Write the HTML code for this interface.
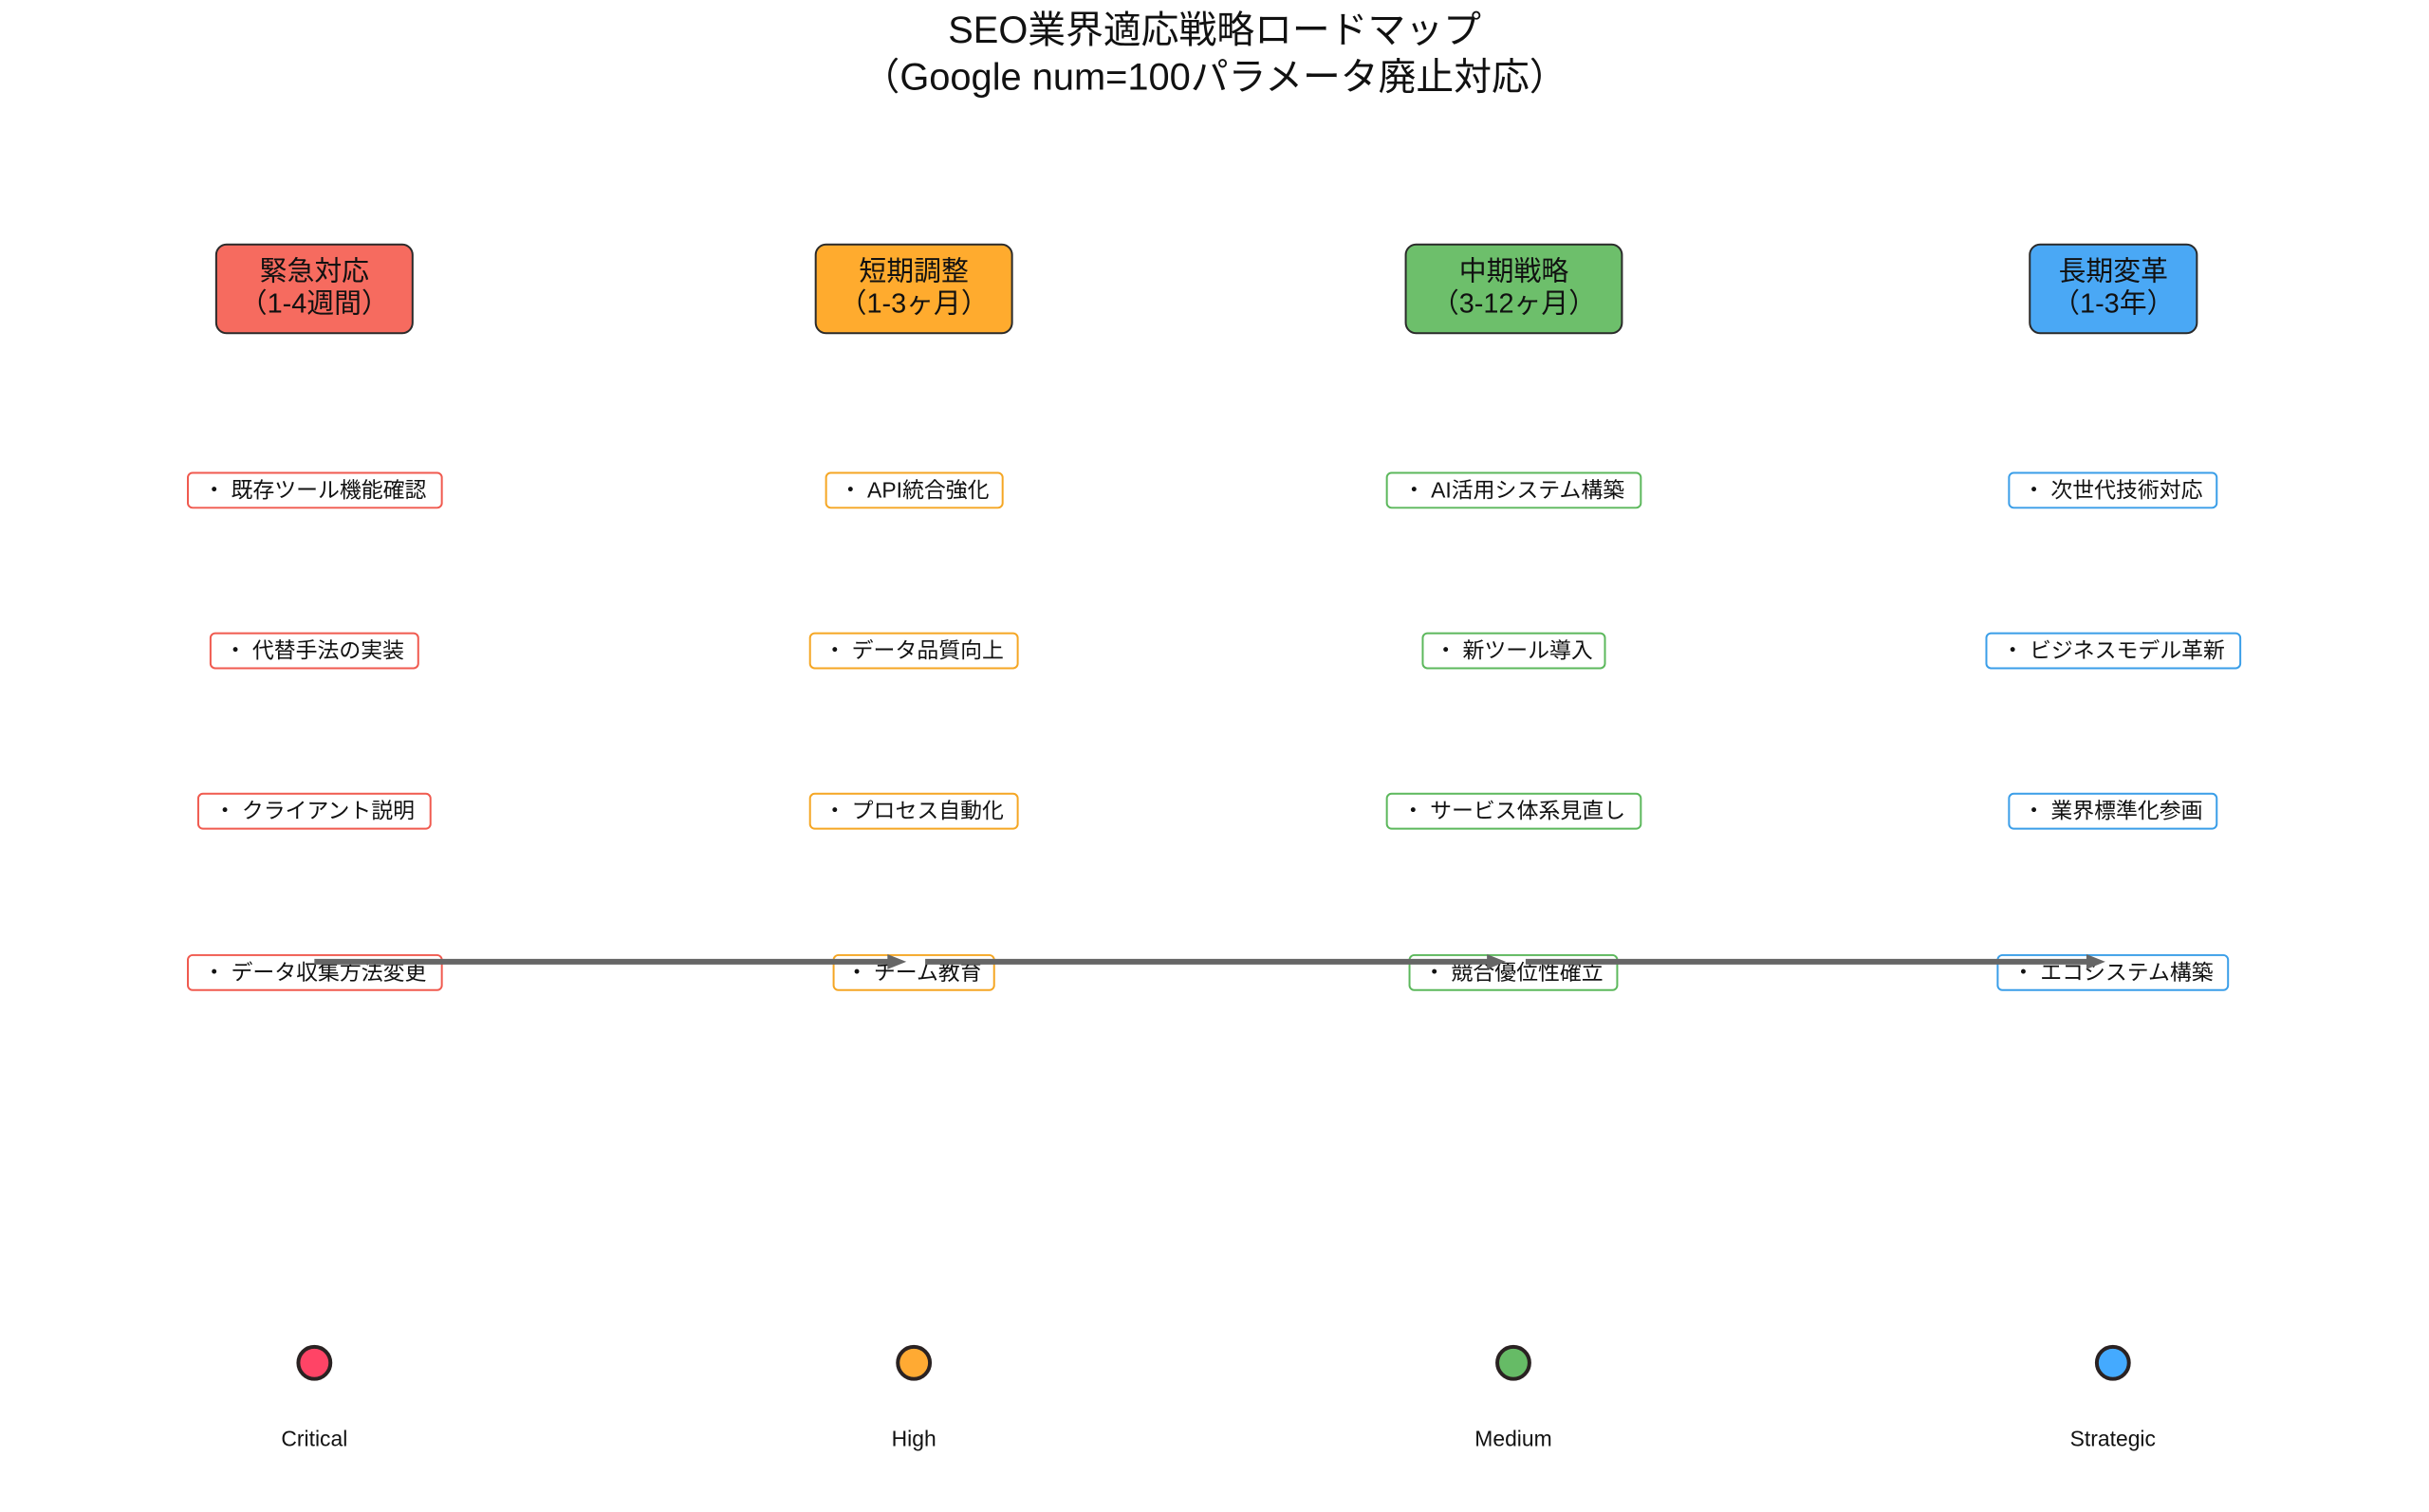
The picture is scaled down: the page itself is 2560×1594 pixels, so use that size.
<!DOCTYPE html>
<html><head><meta charset="utf-8"><style>
html,body{margin:0;padding:0;background:#fff;}
body{width:2560px;height:1594px;position:relative;overflow:hidden;font-family:"Liberation Sans","Noto Sans CJK JP",sans-serif;color:#111;}
#w{position:absolute;left:0;top:0;width:2560px;height:1594px;transform:scale(0.995);transform-origin:0 0;}
.t{position:absolute;left:0;width:2573px;text-align:center;font-size:40px;line-height:52px;}
.h{position:absolute;box-sizing:border-box;border:2.5px solid #2a2a2a;border-radius:12px;text-align:center;font-size:29px;line-height:34px;padding-top:11px;}
.i{position:absolute;box-sizing:border-box;height:39px;border:2.5px solid;border-radius:6px;background:#fff;font-size:23px;line-height:34px;text-align:center;white-space:nowrap;}
.c{position:absolute;width:30px;height:30px;border-radius:50%;border:4px solid #2a2222;}
.l{position:absolute;width:300px;text-align:center;font-size:23px;}
</style></head><body><div id="w">
<div class="t" style="top:6px">SEO業界適応戦略ロードマップ</div>
<div class="t" style="top:56px">（Google num=100パラメータ廃止対応）</div>

<div class="h" style="left:228px;top:258px;width:210px;height:96px;background:#f66b5f">緊急対応<br>（1-4週間）</div>
<div class="h" style="left:863px;top:258px;width:210px;height:96px;background:#ffab2e">短期調整<br>（1-3ヶ月）</div>
<div class="h" style="left:1488px;top:258px;width:231px;height:96px;background:#6dbf6b">中期戦略<br>（3-12ヶ月）</div>
<div class="h" style="left:2149px;top:258px;width:179px;height:96px;background:#4aa8f5">長期変革<br>（1-3年）</div>

<div class="i" style="border-color:#f05a4f;left:198px;top:500px;width:271px">・ 既存ツール機能確認</div>
<div class="i" style="border-color:#f05a4f;left:222px;top:670px;width:222px">・ 代替手法の実装</div>
<div class="i" style="border-color:#f05a4f;left:209px;top:840px;width:248px">・ クライアント説明</div>
<div class="i" style="border-color:#f05a4f;left:198px;top:1011px;width:271px">・ データ収集方法変更</div>

<div class="i" style="border-color:#f5a623;left:874px;top:500px;width:189px">・ API統合強化</div>
<div class="i" style="border-color:#f5a623;left:857px;top:670px;width:222px">・ データ品質向上</div>
<div class="i" style="border-color:#f5a623;left:857px;top:840px;width:222px">・ プロセス自動化</div>
<div class="i" style="border-color:#f5a623;left:882px;top:1011px;width:172px">・ チーム教育</div>

<div class="i" style="border-color:#5cb85c;left:1468px;top:500px;width:271px">・ AI活用システム構築</div>
<div class="i" style="border-color:#5cb85c;left:1506px;top:670px;width:195px">・ 新ツール導入</div>
<div class="i" style="border-color:#5cb85c;left:1468px;top:840px;width:271px">・ サービス体系見直し</div>
<div class="i" style="border-color:#5cb85c;left:1492px;top:1011px;width:222px">・ 競合優位性確立</div>

<div class="i" style="border-color:#3a9ee8;left:2127px;top:500px;width:222px">・ 次世代技術対応</div>
<div class="i" style="border-color:#3a9ee8;left:2103px;top:670px;width:271px">・ ビジネスモデル革新</div>
<div class="i" style="border-color:#3a9ee8;left:2127px;top:840px;width:222px">・ 業界標準化参画</div>
<div class="i" style="border-color:#3a9ee8;left:2115px;top:1011px;width:246px">・ エコシステム構築</div>

<svg width="2560" height="1594" style="position:absolute;left:0;top:0">
<g stroke="#666" stroke-width="6" fill="#666">
<line x1="333" y1="1019" x2="945" y2="1019"/><polygon points="940,1011 960,1019 940,1027" stroke="none"/>
<line x1="980" y1="1019" x2="1580" y2="1019"/><polygon points="1575,1011 1595,1019 1575,1027" stroke="none"/>
<line x1="1616" y1="1019" x2="2215" y2="1019"/><polygon points="2210,1011 2230,1019 2210,1027" stroke="none"/>
</g>
</svg>

<div class="c" style="left:314px;top:1425px;background:#ff4466"></div>
<div class="c" style="left:949px;top:1425px;background:#ffaa33"></div>
<div class="c" style="left:1584px;top:1425px;background:#66bb66"></div>
<div class="c" style="left:2219px;top:1425px;background:#44aaff"></div>
<div class="l" style="left:183px;top:1511px">Critical</div>
<div class="l" style="left:818px;top:1511px">High</div>
<div class="l" style="left:1453px;top:1511px">Medium</div>
<div class="l" style="left:2088px;top:1511px">Strategic</div>
</div></body></html>
